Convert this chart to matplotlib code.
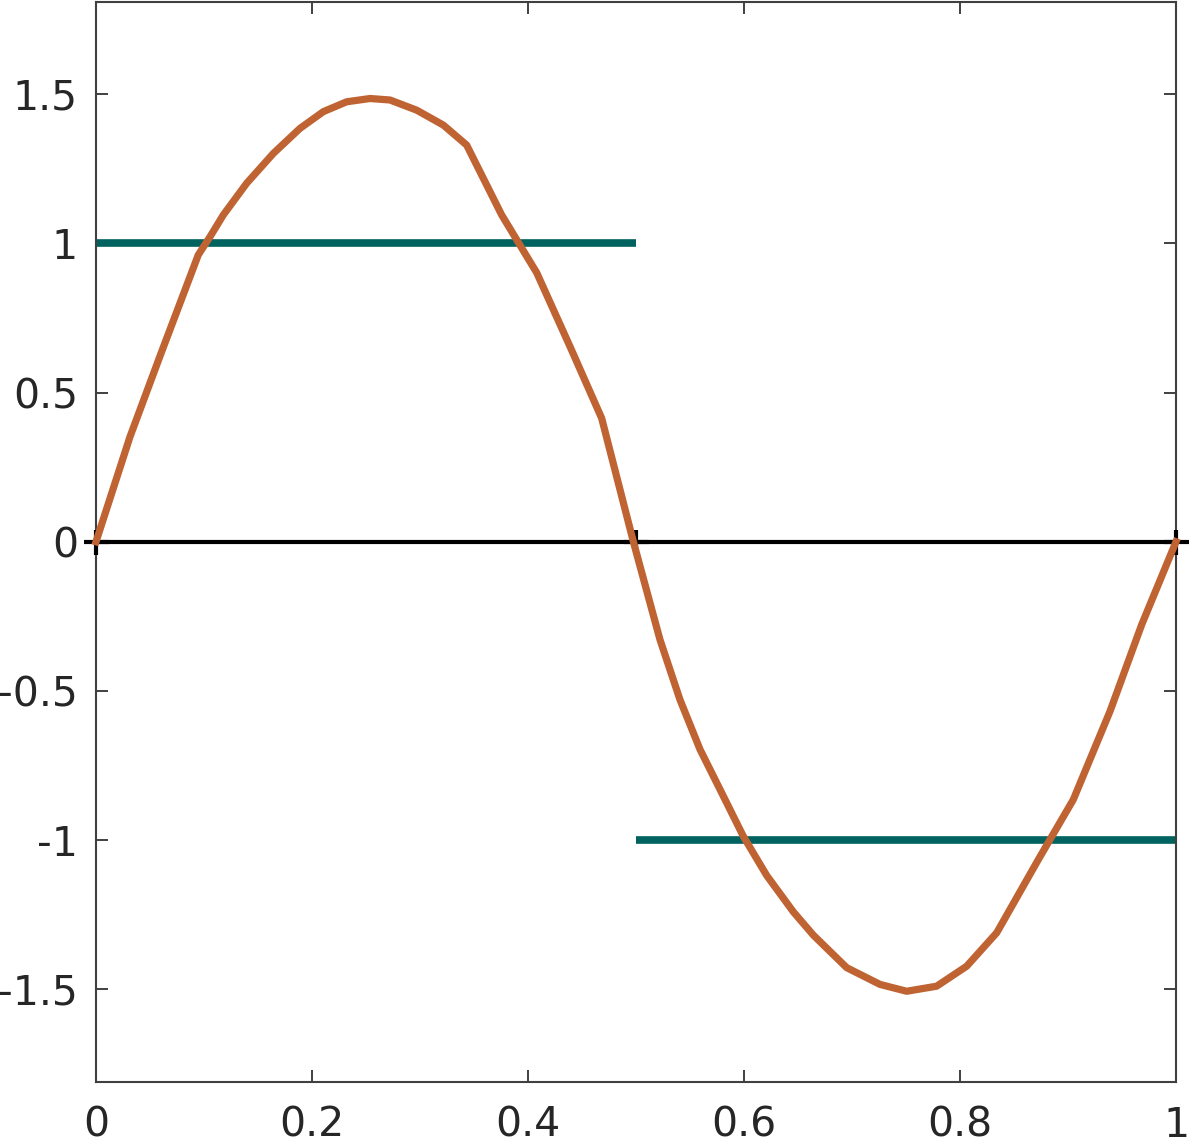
import matplotlib
matplotlib.use("Agg")
import matplotlib.pyplot as plt
import numpy as np

plt.rcParams['font.family'] = ['DejaVu Sans']
plt.rcParams['axes.unicode_minus'] = False

# Approximation curve
approx_x = [0.0, 0.0315, 0.0608, 0.0947, 0.1056, 0.1179, 0.1395, 0.1642, 0.1889,
            0.2105, 0.2321, 0.2537, 0.2722, 0.2969, 0.3216, 0.3432, 0.3756,
            0.4081, 0.4389, 0.4682, 0.4975, 0.5222, 0.5407, 0.5593, 0.5778,
            0.5994, 0.6210, 0.6457, 0.6642, 0.6951, 0.7259, 0.7506, 0.7784,
            0.8062, 0.8340, 0.8725, 0.9049, 0.9389, 0.9682, 1.0]
approx_y = [0.0, 0.352, 0.637, 0.961, 1.022, 1.095, 1.201, 1.301, 1.385,
            1.441, 1.474, 1.485, 1.480, 1.446, 1.396, 1.329, 1.095,
            0.901, 0.654, 0.414, 0.001, -0.328, -0.529, -0.696, -0.830,
            -0.987, -1.118, -1.240, -1.318, -1.427, -1.483, -1.506, -1.489,
            -1.422, -1.310, -1.065, -0.864, -0.568, -0.278, 0.0]

# Square wave segments
sq_x1 = [0.0, 0.5]
sq_y1 = [1.0, 1.0]
sq_x2 = [0.5, 1.0]
sq_y2 = [-1.0, -1.0]

# Zero line with markers
zero_x = [0.0, 0.5, 1.0]
zero_y = [0.0, 0.0, 0.0]

xticks = [0, 0.2, 0.4, 0.6, 0.8, 1.0]
xticklabels = ['0', '0.2', '0.4', '0.6', '0.8', '1']
yticks = [-1.5, -1, -0.5, 0, 0.5, 1, 1.5]
yticklabels = ['-1.5', '-1', '-0.5', '0', '0.5', '1', '1.5']

fig = plt.figure(figsize=(11.91, 11.40), dpi=100)
ax = fig.add_axes([96/1191, 1 - 1082/1140, (1176-96)/1191, (1082-1.5)/1140])

teal = '#00635f'
orange = '#c06333'

ax.plot(sq_x1, sq_y1, color=teal, lw=5.5, solid_capstyle='butt', zorder=2)
ax.plot(sq_x2, sq_y2, color=teal, lw=5.5, solid_capstyle='butt', zorder=2)
ax.plot(zero_x, zero_y, color='black', lw=3, marker='+', markersize=18,
        markeredgewidth=3, zorder=3, clip_on=False)
ax.plot(approx_x, approx_y, color=orange, lw=5.2, solid_joinstyle='round', zorder=4, clip_on=False)

ax.set_xlim(0, 1)
ax.set_ylim(-1.81, 1.81)
ax.set_xticks(xticks)
ax.set_xticklabels(xticklabels)
ax.set_yticks(yticks)
ax.set_yticklabels(yticklabels)

for s in ax.spines.values():
    s.set_color('#404040')
    s.set_linewidth(1.5)

ax.tick_params(axis='both', direction='in', length=8.5, width=1.4, color='#404040',
               labelsize=29.5, labelcolor='#262626', top=True, right=True)
ax.tick_params(axis='y', pad=13)
ax.tick_params(axis='x', pad=17)

fig.savefig('out.png', dpi=100)
